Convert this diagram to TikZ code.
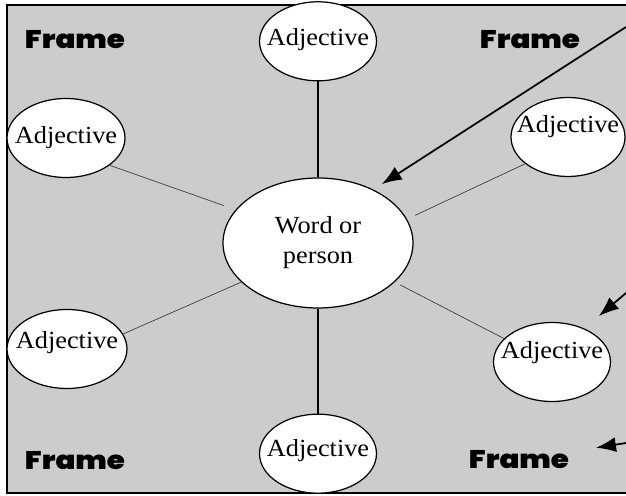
\documentclass[tikz,border=0pt]{standalone}
\usepackage{fontspec}
\setmainfont{Liberation Serif}[FakeStretch=1.07]
\newfontfamily\framefont{Poppins Black}[FakeStretch=1.15]
\usepackage{tikz}
\usetikzlibrary{positioning}
\usetikzlibrary{arrows.meta,shapes.geometric}

\definecolor{framegray}{RGB}{204,204,204}
\newcommand{\adj}[1]{\raisebox{#1}[0pt][0pt]{\makebox[0pt]{Adjective}}}

\begin{document}
\begin{tikzpicture}[x=0.02cm,y=-0.02cm]
	\tikzset{bubble/.style={ellipse,draw=black,line width=0.7pt,fill=white,
			inner sep=0pt,minimum width=2.34cm,minimum height=1.58cm,
			font=\fontsize{14}{17}\selectfont},
		spoke/.style={line width=0.4pt,draw=black!75},
		stem/.style={line width=0.7pt},
		frametag/.style={font={\framefont\fontsize{14.5}{16}\selectfont}},
		pointer/.style={line width=1pt,-{Latex[length=0.4cm,width=0.3cm]}}}

\useasboundingbox (0,0) rectangle (626,496);
\fill[framegray] (7,5) rectangle (626,493);
\draw[line width=1.1pt] (626,5) -- (7,5) -- (7,493) -- (626,493);

\node[bubble,minimum width=3.8cm,minimum height=2.6cm,align=center] (word) at (318,243) {Word or\\person};

\node[bubble] (adjtop) [above=1.92cm of word] {\adj{-2.3pt}};
\node[bubble] (adjbot) [below=2.1cm of word] {\adj{-1.8pt}};
\node[bubble,minimum width=2.36cm] (adjul) at (66,138) {\adj{-3.2pt}};
\node[bubble,minimum width=2.4cm] (adjll) at (67,349) {\adj{0.3pt}};
\node[bubble,minimum width=2.28cm] (adjur) at (568,137) {\adj{2.6pt}};
\node[bubble] (adjlr) at (552,362) {\adj{2pt}};

\draw[stem] (adjtop) -- (word);
\draw[stem] (word) -- (adjbot);
\draw[spoke,shorten >=0.25cm] (adjul.-32) -- (word.158);
\draw[spoke] (adjll.15) -- (word.207);
\draw[spoke,shorten <=0.18cm] (word.15) -- (adjur.212);
\draw[spoke,shorten <=0.12cm] (word.-27) -- (adjlr.154);

\node[frametag] (frameul) at (75,40) {Frame};
\node[frametag] (frameur) at (530,40) {Frame};
\node[frametag] (framell) at (75,461) {Frame};
\node[frametag] (framelr) at (519,460) {Frame};

\coordinate (ptrword) at (626,27);
\coordinate (ptradj) at (626,293);
\coordinate (ptrframe) at (626,443);
\draw[pointer,shorten >=0.2cm] (ptrword) -- (word.44);
\draw[pointer,shorten >=0.38cm] (ptradj) -- (adjlr.46);
\draw[pointer,shorten >=0.42cm] (ptrframe) -- (framelr);
\end{tikzpicture}
\end{document}
